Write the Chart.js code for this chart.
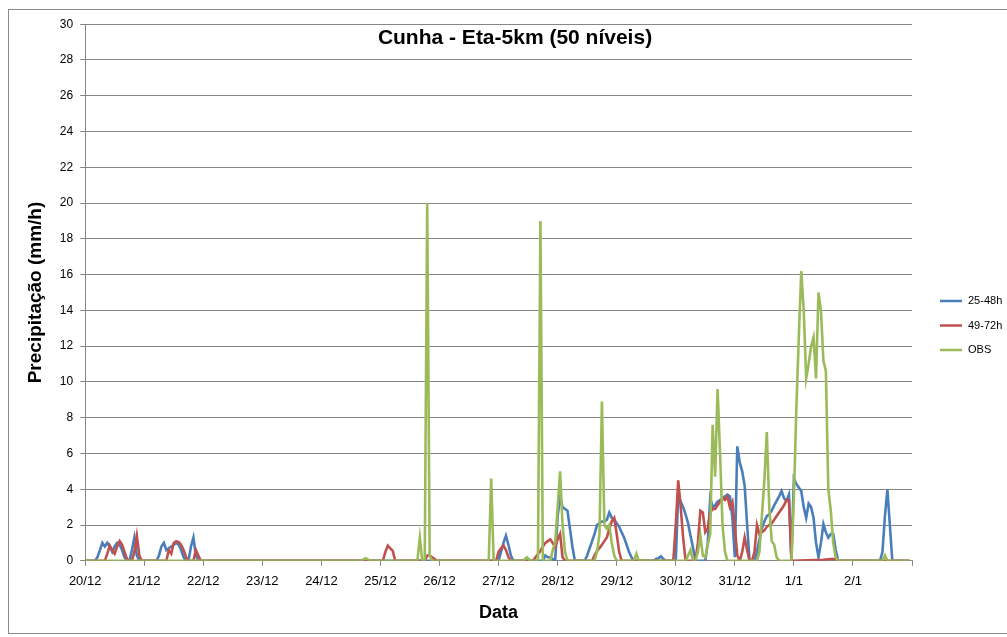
<!DOCTYPE html>
<html>
<head>
<meta charset="utf-8">
<script src="https://cdn.jsdelivr.net/npm/chart.js@4.4.1/dist/chart.umd.min.js"></script>
<style>
    html, body { margin: 0; padding: 0; background: #fff; overflow: hidden; }
    #frame {
        position: absolute;
        left: 8px;
        top: 9px;
        width: 1010px;
        height: 623px;
        border: 1px solid #8a8a8a;
    }
</style>
</head>
<body>
<div id="frame"><canvas id="chart"></canvas></div>
<script>
// hours counted from 20/12 00h, one label per day
const dayLabels = ['20/12', '21/12', '22/12', '23/12', '24/12', '25/12', '26/12',
    '27/12', '28/12', '29/12', '30/12', '31/12', '1/1', '2/1'];
const yTicks = [0, 2, 4, 6, 8, 10, 12, 14, 16, 18, 20, 22, 24, 26, 28, 30];
const seriesNames = ['25-48h', '49-72h', 'OBS'];
const chartTitle = 'Cunha - Eta-5km (50 níveis)';

// [hour, mm/h]
const run2548 = [
    [0, 0], [4, 0], [5, 0.2], [6, 0.6], [7, 1.0], [8, 0.8], [9, 1.0], [10, 0.8], [11, 0.5], [12, 0.8],
    [13, 1.0], [14, 0.9], [15, 0.6], [16, 0.2], [17, 0], [18, 0], [19, 0.6], [20, 1.3], [21, 0.3], [22, 0],
    [29, 0], [30, 0.3], [31, 0.8], [32, 1.0], [33, 0.6], [34, 0.7], [35, 0.8], [36, 0.9], [37, 1.0], [38, 0.9],
    [39, 0.6], [40, 0.2], [41, 0], [42, 0], [43, 0.8], [44, 1.3], [45, 0.3], [46, 0],
    [168, 0], [169, 0.5], [170, 1.0], [171, 1.4], [172, 0.9], [173, 0.3], [174, 0],
    [186, 0], [187, 0.3], [188, 0.2], [189, 0.2], [190, 0.1], [191, 0], [192, 2.5], [193, 3.5], [194, 3.0],
    [195, 2.9], [196, 2.8], [197, 1.8], [198, 0.8], [199, 0],
    [203, 0], [204, 0.3], [205, 0.7], [206, 1.1], [207, 1.5], [208, 2.0], [209, 2.1], [210, 2.2], [211, 2.2],
    [212, 2.3], [213, 2.7], [214, 2.4], [215, 2.3], [216, 2.1], [217, 1.9], [218, 1.6], [219, 1.3], [220, 0.9],
    [221, 0.5], [222, 0.2], [223, 0],
    [231, 0], [232, 0.1], [233, 0.15], [234, 0.25], [235, 0.1], [236, 0],
    [240, 0], [241, 3.7], [242, 3.3], [243, 3.0], [244, 2.6], [245, 2.1], [246, 1.4], [247, 0.75], [248, 0],
    [252, 0], [253, 1.0], [254, 3.5], [255, 3.0], [256, 3.1], [257, 3.3], [258, 3.4], [259, 3.5], [260, 3.6],
    [261, 3.7], [262, 3.6], [263, 2.4], [264, 0.2], [265, 6.4], [266, 5.5], [267, 5.0], [268, 4.2], [269, 2.0], [270, 0],
    [272, 0], [273, 0.5], [274, 1.2], [275, 1.8], [276, 2.2], [277, 2.5], [278, 2.6], [279, 2.8], [280, 3.1],
    [281, 3.35], [282, 3.6], [283, 3.9], [284, 3.5], [285, 3.35], [286, 3.7], [287, 0.1], [288, 4.6], [289, 4.3],
    [290, 4.1], [291, 3.9], [292, 3.0], [293, 2.4], [294, 3.2], [295, 3.0], [296, 2.4], [297, 1.0], [298, 0.2],
    [299, 1.0], [300, 2.05], [301, 1.6], [302, 1.3], [303, 1.5], [304, 1.5], [305, 0.6], [306, 0],
    [323, 0], [324, 0.5], [325, 2.5], [326, 4.0], [327, 2.0], [328, 0], [335, 0]
];

const run4972 = [
    [0, 0], [8, 0], [9, 0.4], [10, 0.85], [11, 0.6], [12, 0.4], [13, 0.8], [14, 1.1], [15, 0.9], [16, 0.5],
    [17, 0.1], [18, 0], [19, 0], [20, 0.5], [21, 1.4], [22, 0.3], [23, 0],
    [33, 0], [34, 0.6], [35, 0.4], [36, 1.0], [37, 1.1], [38, 1.05], [39, 0.9], [40, 0.6], [41, 0.2], [42, 0],
    [44, 0], [45, 0.6], [46, 0.3], [47, 0],
    [121, 0], [122, 0.5], [123, 0.85], [124, 0.7], [125, 0.55], [126, 0],
    [138, 0], [139, 0.3], [140, 0.3], [141, 0.2], [142, 0.1], [143, 0],
    [167, 0], [168, 0.5], [169, 0.7], [170, 0.85], [171, 0.6], [172, 0.2], [173, 0],
    [182, 0], [183, 0.2], [185, 0.55], [186, 0.8], [187, 1.0], [188, 1.1], [189, 1.2], [190, 1.0], [191, 0.75],
    [192, 1.2], [193, 1.5], [194, 0.2], [195, 0],
    [206, 0], [207, 0.3], [208, 0.55], [209, 0.7], [210, 0.9], [211, 1.1], [212, 1.3], [213, 1.8], [214, 2.2],
    [215, 2.4], [216, 1.5], [217, 0.5], [218, 0],
    [239, 0], [240, 2.0], [241, 4.5], [242, 3.0], [243, 1.3], [244, 0],
    [248, 0], [249, 1.0], [250, 2.8], [251, 2.7], [252, 1.6], [253, 1.8], [254, 2.7], [255, 2.9], [256, 2.9],
    [257, 3.1], [258, 3.3], [259, 3.5], [260, 3.4], [261, 3.6], [262, 3.0], [263, 3.3], [264, 1.9], [265, 0.3], [266, 0],
    [267, 0.5], [268, 1.3], [269, 0.6], [270, 0], [271, 0], [272, 0.5], [273, 2.0], [274, 1.5], [275, 1.6],
    [276, 1.7], [277, 1.9], [278, 2.0], [279, 2.1], [280, 2.3], [281, 2.5], [282, 2.7], [283, 2.9], [284, 3.1],
    [285, 3.4], [286, 3.4], [287, 0],
    [300, 0.05], [303, 0.1], [305, 0.1], [306, 0], [335, 0]
];

const obs = [
    [0, 0], [112, 0], [114, 0.15], [116, 0], [135, 0], [136, 1.3], [137, 0], [138, 0], [139, 20], [140, 0.3], [141, 0],
    [164, 0], [165, 4.6], [166, 0],
    [178, 0], [179.5, 0.2], [181, 0], [184, 0], [185, 19], [186, 0],
    [189, 0], [190, 0.6], [191, 1.0], [192, 3.0], [193, 5.0], [194, 2.0], [195, 0.5], [196, 0],
    [207, 0], [208, 0.5], [209, 1.5], [210, 8.9], [211, 2.0], [212, 1.8], [213, 2.0], [214, 1.0], [215, 0.3], [216, 0],
    [223, 0], [224, 0.4], [225, 0],
    [244, 0], [245, 0.3], [246, 0.6], [247, 0], [248, 0], [249, 0.5], [250, 1.4], [251, 0.3], [252, 0.2],
    [253, 0.9], [254, 1.5], [255, 7.6], [256, 4.7], [257, 9.6], [258, 6.0], [259, 2.0], [260, 0.5], [261, 0],
    [273, 0], [274, 0.5], [275, 2.5], [276, 4.5], [277, 7.2], [278, 3.0], [279, 1.1], [280, 0.9], [281, 0.2], [282, 0],
    [287, 0], [288, 3.5], [289, 8.5], [290, 12.5], [291, 16.2], [292, 14.0], [293, 10.2], [294, 11.0], [295, 12.0],
    [296, 12.5], [297, 10.2], [298, 15.0], [299, 14.0], [300, 11.2], [301, 10.6], [302, 4.0], [303, 2.8], [304, 1.0],
    [305, 0.2], [306, 0],
    [324, 0], [325, 0.3], [326, 0], [335, 0]
];

const toPoints = rows => rows.map(([h, v]) => ({ x: h, y: v }));
const font = '"Liberation Sans", Arial, sans-serif';

// title sits inside the plot, like the original
const insideTitle = {
    id: 'insideTitle',
    afterDraw(chart) {
        const ctx = chart.ctx;
        ctx.save();
        ctx.font = 'bold 21px ' + font;
        ctx.fillStyle = '#000';
        ctx.textAlign = 'center';
        ctx.textBaseline = 'middle';
        ctx.fillText(chartTitle, 506, 28);
        ctx.restore();
    }
};

// legend a bit away from the plot, as Excel puts it
const sideLegend = {
    id: 'sideLegend',
    afterDraw(chart) {
        const ctx = chart.ctx;
        const x = chart.chartArea.right + 28;
        let y = 291;
        ctx.save();
        ctx.font = '11px ' + font;
        ctx.textBaseline = 'middle';
        chart.data.datasets.forEach(ds => {
            ctx.strokeStyle = ds.borderColor;
            ctx.lineWidth = 2.5;
            ctx.beginPath();
            ctx.moveTo(x, y);
            ctx.lineTo(x + 22, y);
            ctx.stroke();
            ctx.fillStyle = '#000';
            ctx.fillText(ds.label, x + 28, y);
            y += 24.5;
        });
        ctx.restore();
    }
};

const lineStyle = {
    borderWidth: 2.6,
    pointRadius: 0,
    pointHoverRadius: 0,
    tension: 0,
    fill: false
};

new Chart(document.getElementById('chart'), {
    type: 'line',
    data: {
        datasets: [
            { label: seriesNames[0], data: toPoints(run2548), borderColor: '#4a7ebb', order: 2, ...lineStyle },
            { label: seriesNames[1], data: toPoints(run4972), borderColor: '#c0504d', order: 1, ...lineStyle },
            { label: seriesNames[2], data: toPoints(obs), borderColor: '#9bbb59', order: 0, ...lineStyle }
        ]
    },
    options: {
        responsive: true,
        maintainAspectRatio: false,
        animation: false,
        layout: { padding: { left: 15, top: 8, right: 107, bottom: 9 } },
        plugins: {
            legend: { display: false },
            tooltip: { enabled: false }
        },
        scales: {
            x: {
                type: 'linear',
                min: 0,
                max: dayLabels.length * 24,
                afterBuildTicks: axis => {
                    axis.ticks = dayLabels.map((d, i) => ({ value: i * 24 }))
                        .concat([{ value: dayLabels.length * 24 }]);
                },
                ticks: {
                    autoSkip: false,
                    maxRotation: 0,
                    padding: 8,
                    color: '#000',
                    font: { family: font, size: 13 },
                    callback: v => dayLabels[v / 24] || ''
                },
                grid: { drawOnChartArea: false, drawTicks: true, tickLength: 5, color: '#868686' },
                border: { color: '#868686' },
                title: {
                    display: true,
                    text: 'Data',
                    color: '#000',
                    font: { family: font, size: 18, weight: 'bold' },
                    padding: { top: 5, bottom: 0 }
                }
            },
            y: {
                min: 0,
                max: 30,
                afterBuildTicks: axis => {
                    axis.ticks = yTicks.map(v => ({ value: v }));
                },
                ticks: {
                    padding: 7,
                    color: '#000',
                    font: { family: font, size: 12 }
                },
                grid: { color: '#868686', tickLength: 5 },
                border: { color: '#868686' },
                title: {
                    display: true,
                    text: 'Precipitação (mm/h)',
                    color: '#000',
                    font: { family: font, size: 19, weight: 'bold' },
                    padding: { top: 0, bottom: 6 }
                }
            }
        }
    },
    plugins: [insideTitle, sideLegend]
});
</script>
</body>
</html>
